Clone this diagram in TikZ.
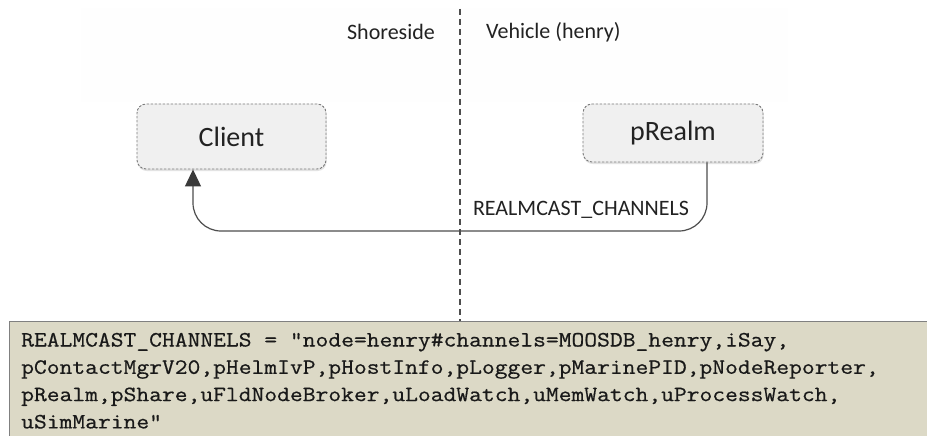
\documentclass[tikz,border=0pt]{standalone}
\usepackage{fontspec}
\setmainfont{Carlito}
\newfontfamily\codefont[FakeStretch=1.14,FakeBold=0.6]{Latin Modern Mono}
\usetikzlibrary{arrows.meta,shadows}
\definecolor{boxfill}{HTML}{F0F0F0}
\definecolor{boxline}{HTML}{7A7A7A}
\definecolor{codefill}{HTML}{DCD9C6}
\definecolor{codeline}{HTML}{808080}
\definecolor{wire}{HTML}{4D4D4D}
\definecolor{tipcol}{HTML}{3A3A3A}
\definecolor{txt}{HTML}{222222}
\tikzset{
  appbox/.style={draw=boxline, fill=boxfill, dash pattern=on 2.5pt off 1.5pt, line width=0.9pt,
    rounded corners=9pt, font=\fontsize{28}{32}\selectfont, text=txt, inner sep=0pt,
    drop shadow={opacity=0.22, shadow xshift=0.6pt, shadow yshift=-2pt}},
  sidelabel/.style={font=\fontsize{22}{26}\selectfont, text=txt, inner sep=0pt},
  divider/.style={draw=wire, line width=1.2pt, dash pattern=on 6pt off 4pt},
  wireline/.style={draw=wire, line width=1.2pt, rounded corners=28pt,
    -{Triangle[length=17pt,width=16pt,color=tipcol]}},
  codeline/.style={font=\codefont\fontsize{21.8}{27}\selectfont, text=black!90, anchor=base west, inner sep=0pt}
}
\begin{document}
\begin{tikzpicture}[x=1pt,y=-1pt]
\clip (0,0) rectangle (927,436);
\fill[white] (0,0) rectangle (927,436);
% faint background area
\fill[black!0.5] (81,8) rectangle (788,102);
% divider
\coordinate (divtop) at (460,9);
\coordinate (divbot) at (460,321);
\draw[divider] (divtop) -- (divbot);
% side labels
\node[sidelabel] (shore) at (391,32) {Shoreside};
\node[sidelabel, anchor=west] (vehicle) at (486,32) {Vehicle (henry)};
% app boxes
\node[appbox, minimum width=189pt, minimum height=65pt] (client) at (231.5,136.5) {Client};
\node[appbox, minimum width=180pt, minimum height=58pt] (prealm) at (673,133) {pRealm};
% connector
\coordinate (bend) at (460,231);
\draw[wireline] ([xshift=34pt]prealm.south) |- (bend) -| ([xshift=-38.5pt]client.south);
\node[sidelabel] (chan) at (581,210) {REALMCAST\_CHANNELS};
% code box
\node[draw=codeline, fill=codefill, line width=1pt, anchor=north west, minimum width=940pt, minimum height=140pt, inner sep=0pt] (codebox) at (9,321) {};
\node[codeline] (code1) at (21,346.5) {REALMCAST\_CHANNELS = “node=henry\#channels=MOOSDB\_henry,iSay,};
\node[codeline] (code2) at (21,373.8) {pContactMgrV20,pHelmIvP,pHostInfo,pLogger,pMarinePID,pNodeReporter,};
\node[codeline] (code3) at (21,401.1) {pRealm,pShare,uFldNodeBroker,uLoadWatch,uMemWatch,uProcessWatch,};
\node[codeline] (code4) at (21,428.4) {uSimMarine”};
\end{tikzpicture}
\end{document}
